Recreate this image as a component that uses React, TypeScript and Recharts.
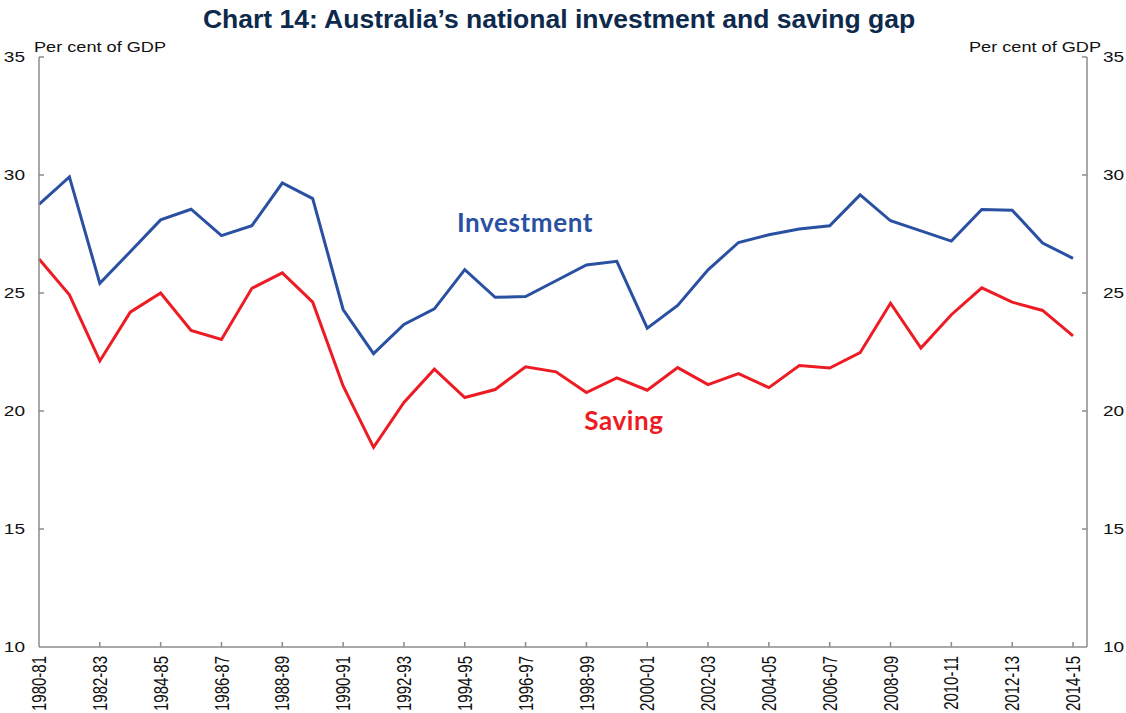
import { Line, LineChart, XAxis, YAxis } from "recharts";

const years = [
  "1980-81", "1981-82", "1982-83", "1983-84", "1984-85", "1985-86", "1986-87", "1987-88", "1988-89", "1989-90",
  "1990-91", "1991-92", "1992-93", "1993-94", "1994-95", "1995-96", "1996-97", "1997-98", "1998-99", "1999-00",
  "2000-01", "2001-02", "2002-03", "2003-04", "2004-05", "2005-06", "2006-07", "2007-08", "2008-09", "2009-10",
  "2010-11", "2011-12", "2012-13", "2013-14", "2014-15",
];

const investment = [
  28.76, 29.92, 25.41, 26.75, 28.1, 28.55, 27.43, 27.85, 29.66, 29.0,
  24.3, 22.43, 23.67, 24.33, 25.99, 24.82, 24.85, 25.52, 26.19, 26.34,
  23.51, 24.47, 25.98, 27.14, 27.47, 27.71, 27.85, 29.16, 28.06, 27.63,
  27.2, 28.54, 28.51, 27.12, 26.47,
];

const saving = [
  26.44, 24.92, 22.12, 24.19, 25.0, 23.41, 23.03, 25.2, 25.85, 24.61,
  21.06, 18.46, 20.36, 21.77, 20.57, 20.91, 21.87, 21.66, 20.78, 21.4,
  20.88, 21.84, 21.12, 21.58, 20.99, 21.93, 21.82, 22.47, 24.57, 22.67,
  24.08, 25.22, 24.61, 24.26, 23.18,
];

const yTicks = [10, 15, 20, 25, 30, 35];

const data = years.map((year, i) => ({ year, investment: investment[i], saving: saving[i] }));

const font = "'Liberation Sans', Arial, sans-serif";
const blue = "#2a50a2";
const red = "#ed1c24";
const axisGrey = "#8c8c8c";

// tick marks point into the plot, so they are drawn here next to the label
function LeftTick({ x, y, payload }: any) {
  return (
    <g transform={`translate(${x},${y})`}>
      {payload.value !== 10 ? <line x1={14} x2={19} y1={0} y2={0} stroke={axisGrey} strokeWidth={1.5} /> : null}
      <text transform="scale(1.27,1)" textAnchor="end" dy="0.35em" fontFamily={font} fontSize={15} fill="#111">
        {payload.value}
      </text>
    </g>
  );
}

function RightTick({ x, y, payload }: any) {
  return (
    <g transform={`translate(${x},${y})`}>
      {payload.value !== 10 ? <line x1={-16} x2={-21} y1={0} y2={0} stroke={axisGrey} strokeWidth={1.5} /> : null}
      <text transform="scale(1.27,1)" textAnchor="start" dy="0.35em" fontFamily={font} fontSize={15} fill="#111">
        {payload.value}
      </text>
    </g>
  );
}

function XTick({ x, y, payload }: any) {
  return (
    <g transform={`translate(${x},${y})`}>
      {payload.index !== 0 ? <line x1={0} x2={0} y1={-9} y2={-14} stroke={axisGrey} strokeWidth={1.5} /> : null}
      <text transform="rotate(-90) scale(1,1.35)" textAnchor="end" dy="0.35em" fontFamily={font} fontSize={15} fill="#111">
        {payload.value}
      </text>
    </g>
  );
}

export default function App() {
  return (
    <div style={{ position: "absolute", left: 0, top: 0, width: 1126, height: 713, background: "#fff" }}>
      <LineChart width={1126} height={713} data={data} margin={{ top: 57, right: 0, bottom: 0, left: 0 }}>
        <XAxis
          dataKey="year"
          interval={1}
          height={66}
          padding={{ left: 0, right: 14 }}
          tickLine={false}
          tickSize={0}
          tickMargin={9}
          stroke={axisGrey}
          strokeWidth={1.5}
          tick={(p: any) => <XTick {...p} />}
        />
        <YAxis
          yAxisId="left"
          orientation="left"
          width={39}
          domain={[10, 35]}
          ticks={yTicks}
          interval={0}
          tickLine={false}
          tickSize={0}
          tickMargin={14}
          stroke={axisGrey}
          strokeWidth={1.5}
          tick={(p: any) => <LeftTick {...p} />}
        />
        <YAxis
          yAxisId="right"
          orientation="right"
          width={39}
          domain={[10, 35]}
          ticks={yTicks}
          interval={0}
          tickLine={false}
          tickSize={0}
          tickMargin={16}
          stroke={axisGrey}
          strokeWidth={1.5}
          tick={(p: any) => <RightTick {...p} />}
        />
        <Line yAxisId="left" type="linear" dataKey="investment" stroke={blue} strokeWidth={3} dot={false} isAnimationActive={false} />
        <Line yAxisId="right" type="linear" dataKey="saving" stroke={red} strokeWidth={3} dot={false} isAnimationActive={false} />
      </LineChart>
      <svg width={1126} height={713} style={{ position: "absolute", left: 0, top: 0, pointerEvents: "none" }}>
        <text x={559} y={28} textAnchor="middle" fontFamily={font} fontWeight="bold" fontSize={26.5} fill="#0d2a4c">
          Chart 14: Australia’s national investment and saving gap
        </text>
        <text x={34} y={52} textLength={132} lengthAdjust="spacingAndGlyphs" fontFamily={font} fontSize={15} fill="#111">
          Per cent of GDP
        </text>
        <text x={969} y={52} textLength={132} lengthAdjust="spacingAndGlyphs" fontFamily={font} fontSize={15} fill="#111">
          Per cent of GDP
        </text>
        <text x={525} y={232} textAnchor="middle" fontFamily="Lato, 'Open Sans', sans-serif" fontWeight="bold" fontSize={26} letterSpacing={0.6} fill={blue}>
          Investment
        </text>
        <text x={624} y={430} textAnchor="middle" fontFamily="Lato, 'Open Sans', sans-serif" fontWeight="bold" fontSize={26} letterSpacing={0.6} fill={red}>
          Saving
        </text>
      </svg>
    </div>
  );
}
